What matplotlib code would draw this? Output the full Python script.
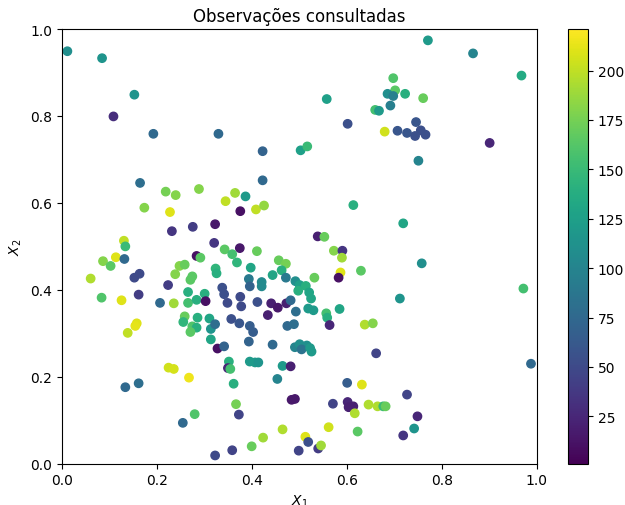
import matplotlib.pyplot as plt

# posições das observações (X1, X2) e ordem de consulta (cor)
x1 = [0.012, 0.085, 0.153, 0.109, 0.193, 0.330, 0.423, 0.423, 0.503, 0.517,
      0.558, 0.602, 0.660, 0.668, 0.771, 0.866, 0.968, 0.698, 0.702, 0.686,
      0.698, 0.723, 0.761, 0.692, 0.680, 0.707, 0.727, 0.746, 0.756, 0.744,
      0.766, 0.901, 0.751, 0.165, 0.219, 0.240, 0.289, 0.174, 0.228, 0.232,
      0.276, 0.323, 0.321, 0.131, 0.134, 0.114, 0.132, 0.087, 0.103, 0.061,
      0.284, 0.292, 0.164, 0.153, 0.248, 0.259, 0.239, 0.275, 0.271, 0.324,
      0.326, 0.224, 0.084, 0.126, 0.162, 0.207, 0.236, 0.266, 0.266, 0.284,
      0.301, 0.303, 0.259, 0.286, 0.311, 0.158, 0.155, 0.139, 0.256, 0.275,
      0.284, 0.271, 0.314, 0.323, 0.314, 0.328, 0.225, 0.236, 0.268, 0.134,
      0.162, 0.280, 0.255, 0.323, 0.365, 0.387, 0.345, 0.409, 0.426, 0.376,
      0.614, 0.375, 0.343, 0.359, 0.411, 0.369, 0.457, 0.472, 0.398, 0.539,
      0.553, 0.573, 0.591, 0.590, 0.587, 0.583, 0.630, 0.532, 0.463, 0.444,
      0.472, 0.394, 0.421, 0.421, 0.396, 0.492, 0.501, 0.514, 0.498, 0.521,
      0.525, 0.338, 0.342, 0.376, 0.349, 0.378, 0.412, 0.441, 0.455, 0.473,
      0.482, 0.434, 0.493, 0.519, 0.530, 0.557, 0.559, 0.585, 0.357, 0.374,
      0.396, 0.403, 0.475, 0.489, 0.564, 0.638, 0.655, 0.662, 0.394, 0.342,
      0.444, 0.491, 0.501, 0.516, 0.505, 0.523, 0.526, 0.352, 0.350, 0.355,
      0.396, 0.407, 0.414, 0.465, 0.482, 0.362, 0.454, 0.367, 0.373, 0.484,
      0.491, 0.601, 0.632, 0.571, 0.602, 0.614, 0.604, 0.617, 0.646, 0.623,
      0.562, 0.513, 0.519, 0.540, 0.546, 0.499, 0.465, 0.424, 0.400, 0.359,
      0.988, 0.727, 0.665, 0.677, 0.682, 0.749, 0.742, 0.719, 0.719, 0.758,
      0.712, 0.972]
x2 = [0.949, 0.933, 0.849, 0.799, 0.759, 0.759, 0.719, 0.652, 0.721, 0.730,
      0.839, 0.782, 0.814, 0.812, 0.974, 0.944, 0.893, 0.887, 0.859, 0.851,
      0.846, 0.851, 0.841, 0.824, 0.764, 0.766, 0.761, 0.786, 0.767, 0.754,
      0.757, 0.738, 0.697, 0.646, 0.626, 0.618, 0.632, 0.589, 0.579, 0.535,
      0.545, 0.551, 0.508, 0.513, 0.500, 0.475, 0.471, 0.466, 0.455, 0.426,
      0.478, 0.474, 0.437, 0.428, 0.455, 0.458, 0.436, 0.431, 0.423, 0.449,
      0.438, 0.411, 0.382, 0.376, 0.389, 0.370, 0.369, 0.395, 0.370, 0.377,
      0.391, 0.374, 0.339, 0.336, 0.334, 0.323, 0.317, 0.301, 0.326, 0.316,
      0.313, 0.303, 0.310, 0.321, 0.286, 0.265, 0.221, 0.218, 0.198, 0.176,
      0.185, 0.114, 0.094, 0.019, 0.623, 0.615, 0.604, 0.585, 0.594, 0.581,
      0.595, 0.496, 0.493, 0.482, 0.489, 0.463, 0.468, 0.460, 0.451, 0.523,
      0.522, 0.490, 0.490, 0.474, 0.440, 0.428, 0.444, 0.428, 0.445, 0.434,
      0.428, 0.425, 0.418, 0.408, 0.408, 0.420, 0.411, 0.409, 0.398, 0.394,
      0.380, 0.405, 0.390, 0.384, 0.370, 0.362, 0.372, 0.369, 0.359, 0.369,
      0.376, 0.342, 0.350, 0.357, 0.353, 0.346, 0.336, 0.356, 0.333, 0.323,
      0.317, 0.303, 0.317, 0.321, 0.319, 0.320, 0.323, 0.254, 0.281, 0.270,
      0.274, 0.268, 0.275, 0.272, 0.263, 0.266, 0.258, 0.235, 0.220, 0.218,
      0.235, 0.233, 0.233, 0.225, 0.224, 0.184, 0.195, 0.137, 0.113, 0.147,
      0.149, 0.186, 0.182, 0.138, 0.142, 0.132, 0.130, 0.116, 0.136, 0.074,
      0.084, 0.062, 0.050, 0.035, 0.042, 0.030, 0.079, 0.060, 0.040, 0.031,
      0.230, 0.159, 0.132, 0.132, 0.132, 0.109, 0.081, 0.065, 0.553, 0.461,
      0.380, 0.403]
ordem = [110, 115, 115, 30, 75, 75, 70, 75, 125, 150,
         125, 55, 155, 120, 120, 100, 135, 160, 165, 110,
         95, 140, 170, 95, 205, 60, 60, 60, 55, 55,
         55, 25, 100, 80, 175, 180, 180, 180, 210, 35,
         40, 15, 35, 200, 150, 210, 75, 180, 165, 195,
         10, 165, 50, 50, 180, 170, 180, 165, 165, 145,
         140, 40, 160, 210, 40, 75, 190, 140, 155, 140,
         140, 10, 170, 140, 130, 210, 212, 200, 145, 160,
         140, 165, 115, 80, 130, 10, 205, 207, 215, 75,
         80, 160, 75, 50, 190, 120, 200, 200, 185, 10,
         140, 15, 165, 155, 170, 145, 170, 175, 130, 20,
         170, 180, 35, 190, 210, 10, 165, 170, 140, 130,
         90, 90, 105, 105, 70, 110, 125, 140, 140, 130,
         130, 55, 55, 50, 50, 50, 55, 20, 15, 20,
         75, 20, 80, 120, 120, 155, 140, 130, 55, 60,
         65, 65, 75, 80, 25, 195, 180, 45, 70, 70,
         75, 100, 110, 110, 85, 120, 120, 140, 25, 155,
         120, 120, 115, 120, 20, 140, 100, 175, 45, 15,
         15, 65, 210, 45, 25, 20, 20, 195, 195, 165,
         205, 210, 55, 40, 190, 45, 195, 190, 170, 45,
         75, 45, 195, 150, 170, 25, 115, 35, 130, 110,
         115, 155]

fig = plt.figure(figsize=(6.25, 5.06), dpi=100)
ax = fig.add_axes([0.0987, 0.0816, 0.760, 0.859])
cax = fig.add_axes([0.909, 0.0816, 0.032, 0.859])

sc = ax.scatter(x1, x2, c=ordem, cmap='viridis', vmin=1, vmax=221)
fig.colorbar(sc, cax=cax)

ax.set_xlim(0, 1)
ax.set_ylim(0, 1)
ax.set_xlabel('$X_1$')
ax.set_ylabel('$X_2$')
ax.set_title('Observações consultadas')

fig.savefig('out.png', dpi=100)
